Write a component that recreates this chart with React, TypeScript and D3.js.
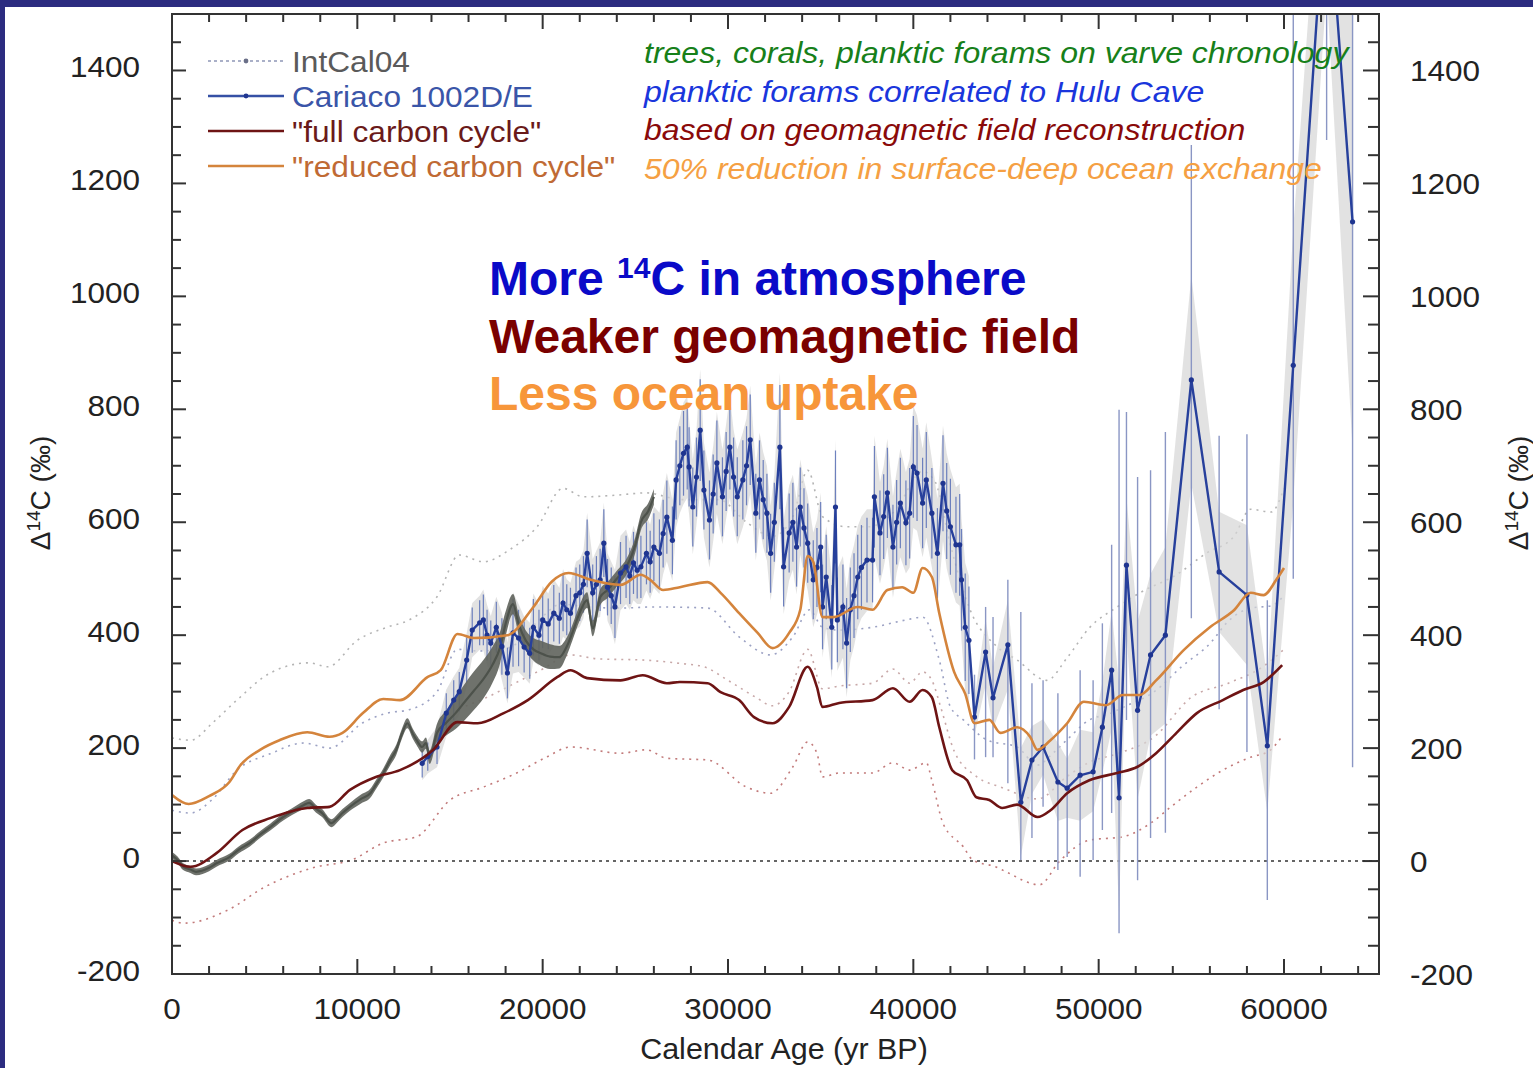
import React from "react";
import * as d3 from "d3";

// ---------- DATA ----------
const xTicksMajor = [0, 10000, 20000, 30000, 40000, 50000, 60000];
const yTicksMajor = [-200, 0, 200, 400, 600, 800, 1000, 1200, 1400];

// "full carbon cycle" (geomagnetic field reconstruction)
const fullCycle: [number, number][] = [
  [0, 0], [1000, -10], [2400, 14], [3800, 55], [5300, 76], [7300, 94], [8500, 96], [9600, 126],
  [11000, 149], [12300, 161], [14100, 197], [15400, 246], [16500, 244], [17900, 262], [19200, 285],
  [20800, 326], [21500, 338], [22400, 324], [24200, 320], [25400, 329], [26700, 315], [27400, 317],
  [28900, 315], [29600, 299], [30600, 285], [31400, 255], [32400, 244], [33300, 273], [34300, 344],
  [34800, 308], [35100, 273], [36000, 280], [37800, 285], [38900, 306], [39800, 282], [40500, 303],
  [41000, 290], [41400, 237], [42100, 161], [42900, 143], [43400, 113], [44100, 108], [44800, 94],
  [45600, 100], [46700, 78], [47400, 90], [48300, 120], [49500, 143], [51000, 156], [52100, 167],
  [53100, 191], [54200, 227], [55300, 262], [56700, 285], [57800, 303], [58900, 317], [59900, 347],
];

// "reduced carbon cycle"
const reducedCycle: [number, number][] = [
  [0, 117], [900, 101], [2000, 115], [3100, 140], [3700, 170], [4750, 197], [5800, 214], [7300, 228],
  [8500, 220], [9200, 227], [10300, 262], [11400, 287], [12300, 285], [13800, 326], [14500, 338],
  [15400, 402], [16300, 395], [18100, 400], [19500, 450], [20500, 495], [21400, 510], [22600, 498],
  [24200, 489], [25300, 507], [25800, 498], [26500, 480], [27400, 485], [28900, 494], [29600, 475],
  [30600, 439], [31600, 404], [32400, 377], [33300, 404], [33900, 445], [34300, 540], [34600, 530],
  [35100, 432], [35700, 432], [37000, 450], [37800, 445], [38600, 480], [39400, 485], [40000, 475],
  [40500, 519], [41000, 503], [41400, 439], [42200, 335], [42800, 296], [43300, 244], [44100, 250],
  [44700, 227], [45600, 237], [46300, 220], [46700, 197], [47400, 214], [48300, 244], [49200, 282],
  [50400, 276], [51300, 294], [52200, 294], [53100, 320], [54600, 374], [56000, 414], [57300, 444],
  [58200, 475], [58900, 471], [59600, 499], [60000, 519],
];

// dotted uncertainty envelopes
const envUpper: [number, number][] = [
  [0, 218], [1000, 214], [2200, 245], [3500, 285], [5300, 333], [7400, 351], [8400, 344], [10000, 391],
  [11600, 414], [12800, 427], [14300, 468], [15500, 542], [16800, 530], [18200, 551], [19700, 592],
  [21100, 660], [22200, 645], [24000, 648], [25600, 652], [27500, 640], [29500, 640], [31000, 600],
  [32400, 575], [33500, 610], [34300, 692], [35100, 610], [36400, 592], [37600, 592], [39000, 620],
  [40500, 690], [41200, 670], [42000, 560], [43000, 450], [44500, 380], [45600, 356], [47200, 320],
  [48300, 360], [49500, 413], [51000, 450], [52500, 480], [54100, 505], [55800, 545], [57300, 575],
  [58200, 623], [59300, 618], [60000, 660],
];
const envReducedLow: [number, number][] = [
  [0, 90], [1000, 85], [2200, 110], [3500, 161], [5300, 190], [7100, 209], [8500, 200], [10300, 245],
  [11600, 262], [12800, 268], [14300, 300], [15400, 375], [16500, 372], [18200, 378], [19600, 420],
  [21000, 455], [22400, 450], [24200, 448], [26000, 450], [28900, 448], [30600, 397], [32300, 365],
  [33500, 397], [34400, 445], [35100, 414], [36000, 409], [37800, 414], [39600, 427], [40500, 432],
  [41400, 356], [42000, 273], [42700, 250], [44000, 214], [45600, 202], [46700, 170], [47500, 190],
  [48300, 215], [49500, 250], [50500, 260], [51500, 275], [53000, 300], [54500, 345], [56000, 385],
  [57000, 425], [58200, 448], [59300, 452], [60000, 470],
];
const envFullHigh: [number, number][] = [
  [15500, 270], [17000, 290], [18500, 315], [20000, 340], [21500, 365], [23000, 358], [25400, 356],
  [27400, 350], [28700, 344], [30000, 320], [31500, 290], [32400, 275], [33300, 300], [34300, 375],
  [35100, 305], [36000, 310], [37800, 315], [38900, 340], [39800, 315], [40500, 335], [41000, 320],
  [41500, 270], [42200, 195], [43400, 150], [44800, 130], [46700, 110], [48300, 150], [49500, 175],
  [51000, 190], [53000, 220], [55000, 290], [57000, 315], [58900, 345], [60000, 375],
];
const envFullLow: [number, number][] = [
  [0, -105], [650, -110], [3000, -87], [5000, -46], [7700, -11], [9700, 2], [11400, 32], [13200, 43],
  [15000, 108], [16800, 131], [18600, 156], [20200, 184], [21500, 202], [24200, 191], [25600, 197],
  [26700, 182], [28900, 179], [31000, 131], [32300, 120], [33500, 167], [34300, 211], [34800, 191],
  [35100, 149], [36000, 156], [37800, 156], [38900, 174], [39800, 161], [40700, 174], [41000, 143],
  [41600, 67], [42700, 25], [43200, 2], [44500, -11], [45000, -19], [46800, -42], [47900, 0],
  [49500, 37], [51300, 43], [52800, 67], [53900, 96], [55300, 131], [56700, 161], [58200, 184],
  [59200, 195], [59900, 221],
];

// IntCal04: [year, value, half-width]
const intcal: [number, number, number][] = [
  [0, 10, 6], [300, 2, 6], [600, -10, 6], [1000, -15, 6], [1300, -19, 6], [2000, -12, 6], [2400, -4, 6],
  [3100, 7, 6], [3600, 20, 6], [4200, 32, 6], [4800, 48, 6], [5300, 60, 6], [6000, 78, 6], [6500, 88, 6],
  [7100, 99, 7], [7400, 103, 7], [7800, 92, 7], [8100, 85, 7], [8600, 67, 7], [8900, 75, 7], [9200, 85, 7],
  [9600, 96, 7], [10200, 110, 8], [10700, 120, 8], [11000, 135, 8], [11400, 156, 8], [11800, 180, 9],
  [12100, 197, 9], [12400, 225, 9], [12700, 244, 9], [13000, 225, 9], [13200, 214, 9], [13500, 202, 10],
  [13700, 209, 10], [13900, 184, 12], [14300, 227, 16], [14800, 245, 22], [15300, 262, 28], [15800, 282, 32],
  [16300, 302, 34], [16800, 322, 34], [17300, 348, 32], [17700, 378, 28], [18000, 420, 22], [18400, 455, 18],
  [18700, 420, 18], [19100, 390, 18], [19500, 375, 20], [19900, 368, 22], [20400, 362, 22], [20900, 361, 20],
  [21300, 380, 16], [21600, 404, 14], [22000, 440, 14], [22400, 462, 14], [22700, 412, 14], [23100, 467, 14],
  [23500, 480, 14], [24000, 500, 14], [24500, 520, 14], [25000, 560, 14], [25300, 600, 14], [25700, 620, 14],
  [26000, 645, 14],
];

// Cariaco 1002D/E, dense part: [year, value, error]
const cariacoDense: [number, number, number][] = [
  [13500, 173, 25], [13800, 185, 25], [14300, 202, 30], [14800, 262, 35], [15200, 285, 35], [15500, 300, 35],
  [15900, 356, 40], [16200, 409, 40], [16600, 422, 40], [16800, 427, 45], [17000, 400, 45], [17200, 386, 40],
  [17500, 414, 45], [17800, 380, 50], [18100, 333, 45], [18400, 404, 60], [18700, 395, 50], [19000, 379, 45],
  [19300, 368, 45], [19500, 414, 50], [19800, 400, 45], [20000, 427, 50], [20300, 420, 45], [20600, 439, 50],
  [20900, 430, 45], [21100, 457, 50], [21300, 445, 45], [21500, 439, 45], [21800, 470, 50], [22000, 475, 50],
  [22200, 490, 50], [22400, 545, 60], [22700, 475, 50], [22900, 490, 50], [23100, 498, 55], [23300, 563, 60],
  [23500, 485, 50], [23700, 470, 50], [23900, 450, 55], [24200, 510, 55], [24500, 521, 55], [24700, 505, 50],
  [24900, 528, 55], [25100, 515, 50], [25300, 521, 55], [25600, 545, 55], [25800, 530, 55], [26000, 556, 60],
  [26300, 545, 60], [26500, 580, 60], [26700, 609, 65], [27000, 568, 60], [27200, 675, 70], [27400, 700, 70],
  [27600, 722, 75], [27800, 733, 75], [27900, 698, 70], [28100, 627, 70], [28300, 680, 70], [28500, 763, 90],
  [28700, 657, 70], [29000, 604, 70], [29200, 650, 70], [29400, 705, 75], [29700, 645, 70], [29900, 690, 70],
  [30100, 733, 75], [30300, 680, 70], [30500, 645, 70], [30800, 675, 70], [31000, 700, 70], [31200, 746, 80],
  [31500, 616, 70], [31700, 675, 70], [31900, 640, 70], [32100, 616, 70], [32300, 545, 70], [32500, 600, 70],
  [32800, 733, 110], [33000, 521, 70], [33300, 581, 70], [33500, 600, 70], [33700, 556, 70], [33900, 627, 70],
  [34100, 590, 70], [34300, 563, 70], [34600, 498, 70], [34800, 520, 70], [35000, 556, 80], [35100, 450, 75],
  [35300, 503, 75], [35600, 414, 75], [35800, 627, 100], [35900, 427, 75], [36200, 450, 75], [36400, 386, 80],
  [36600, 445, 75], [36800, 470, 75], [37000, 503, 75], [37200, 520, 75], [37500, 533, 75], [37800, 533, 75],
  [37900, 645, 90], [38200, 581, 75], [38400, 610, 75], [38600, 652, 80], [38900, 556, 75], [39100, 600, 75],
  [39300, 634, 80], [39600, 599, 75], [39800, 616, 80], [40000, 698, 90], [40200, 687, 85], [40500, 634, 80],
  [40700, 675, 85], [41000, 616, 80], [41300, 545, 80], [41600, 669, 85], [41800, 620, 85], [42000, 592, 85],
  [42300, 560, 85], [42500, 560, 90], [42600, 498, 90], [42800, 414, 95], [43000, 391, 95],
];

// Cariaco, sparse part: [year, value, low, high]
const cariacoSparse: [number, number, number, number][] = [
  [43300, 255, 180, 330], [43900, 370, 184, 450], [44300, 289, 184, 432], [45100, 383, 138, 498],
  [45800, 104, 2, 441], [46400, 179, 41, 315], [47000, 202, 96, 320], [47800, 140, -16, 297],
  [48300, 129, 7, 244], [49000, 152, -28, 338], [49700, 158, 2, 320], [50200, 237, 55, 421],
  [50700, 338, 85, 560], [51100, 112, -128, 799], [51500, 524, 250, 795], [52100, 267, -34, 680],
  [52800, 365, 41, 692], [53600, 400, 50, 760], [55000, 852, 430, 1268], [56500, 512, 269, 753],
  [58000, 471, 193, 756], [59100, 204, -69, 462], [60500, 878, 500, 1600], [62300, 1750, 1277, 2200],
  [63700, 1132, 166, 2000],
];

const legendItems = [
  { label: "IntCal04", text: "#5a5a5a", line: "#aab0c8", dash: "3,3", dot: true },
  { label: "Cariaco 1002D/E", text: "#3a55a8", line: "#3550a5", dash: "", dot: true },
  { label: "\"full carbon cycle\"", text: "#6a1a1a", line: "#6e1414", dash: "", dot: false },
  { label: "\"reduced carbon cycle\"", text: "#c06a34", line: "#d4843c", dash: "", dot: false },
];

const annotations = [
  { text: "trees, corals, planktic forams on varve chronology", color: "#17801a" },
  { text: "planktic forams correlated to Hulu Cave", color: "#1a36dc" },
  { text: "based on geomagnetic field reconstruction", color: "#8a0a0a" },
  { text: "50% reduction in surface-deep ocean exchange", color: "#f5a043" },
];

const FONT = "'Liberation Sans', Arial, Helvetica, sans-serif";
const SX = 1.05; // horizontal stretch of the original typography

export default function App() {
  const L = 172, R = 1379, T = 14, B = 974;
  const x = d3.scaleLinear().domain([0, 60000]).range([172, 1284]);
  const y = d3.scaleLinear().domain([-200, 1500]).range([B, T]);

  const smooth = d3.line<[number, number]>().x(d => x(d[0])).y(d => y(d[1])).curve(d3.curveMonotoneX);
  const straight = d3.line<[number, number]>().x(d => x(d[0])).y(d => y(d[1]));

  const xMinor = d3.range(0, x.invert(R), 2000);
  const yMinor = d3.range(-200, 1500.1, 50);

  const intcalBand = d3.area<[number, number, number]>()
    .x(d => x(d[0])).y0(d => y(d[1] - d[2])).y1(d => y(d[1] + d[2])).curve(d3.curveMonotoneX);

  const denseBand = d3.area<[number, number, number]>()
    .x(d => x(d[0])).y0(d => y(d[1] - d[2] * 1.2)).y1(d => y(d[1] + d[2] * 1.2));
  const sparseBand = d3.area<[number, number, number, number]>()
    .x(d => x(d[0])).y0(d => y(d[1] - (d[3] - d[2]) * 0.22)).y1(d => y(d[1] + (d[3] - d[2]) * 0.22));

  const cariacoLine: [number, number][] = [
    ...cariacoDense.map(d => [d[0], d[1]] as [number, number]),
    ...cariacoSparse.map(d => [d[0], d[1]] as [number, number]),
  ];

  const st = (tx: number, ty: number, s = SX) => `translate(${tx},${ty}) scale(${s},1)`;

  return (
    <svg width={1533} height={1068} style={{ position: "absolute", left: 0, top: 0, display: "block" }}
      fontFamily={FONT}>
      <defs>
        <clipPath id="plotClip">
          <rect x={L} y={T} width={R - L} height={B - T} />
        </clipPath>
      </defs>
      <rect x={0} y={0} width={1533} height={1068} fill="#2c2c80" />
      <rect x={5} y={7} width={1528} height={1061} fill="#ffffff" />

      <g clipPath="url(#plotClip)">
        {/* envelopes */}
        <path d={smooth(envUpper) || ""} fill="none" stroke="#b4b4b4" strokeWidth={1.6} strokeDasharray="2,5" />
        <path d={smooth(envReducedLow) || ""} fill="none" stroke="#9ca2c4" strokeWidth={1.6} strokeDasharray="2,5" />
        <path d={smooth(envFullHigh) || ""} fill="none" stroke="#c8a8a8" strokeWidth={1.6} strokeDasharray="2,5" />
        <path d={smooth(envFullLow) || ""} fill="none" stroke="#c27a7a" strokeWidth={1.6} strokeDasharray="2,5" />

        {/* zero line */}
        <line x1={L} x2={R} y1={y(0)} y2={y(0)} stroke="#333" strokeWidth={1.6} strokeDasharray="3,4" />

        {/* Cariaco uncertainty shading */}
        <path d={denseBand(cariacoDense) || ""} fill="#d6d6d6" opacity={0.7} />
        <path d={sparseBand(cariacoSparse) || ""} fill="#d6d6d6" opacity={0.7} />

        {/* error bars */}
        {cariacoDense.map((d, i) => (
          <line key={"ed" + i} x1={x(d[0])} x2={x(d[0])} y1={y(d[1] - d[2])} y2={y(d[1] + d[2])}
            stroke="#5068b4" strokeWidth={1.2} opacity={0.8} />
        ))}
        {cariacoSparse.map((d, i) => (
          <line key={"es" + i} x1={x(d[0])} x2={x(d[0])} y1={y(d[2])} y2={y(d[3])}
            stroke="#8a96c4" strokeWidth={1.4} />
        ))}

        {/* IntCal04 */}
        <path d={intcalBand(intcal) || ""} fill="#5f635c" opacity={0.9} />
        <path d={smooth(intcal.map(d => [d[0], d[1]] as [number, number])) || ""} fill="none"
          stroke="#4d524b" strokeWidth={2.2} />

        {/* Cariaco line */}
        <path d={straight(cariacoLine) || ""} fill="none" stroke="#27409c" strokeWidth={2.4} />
        {cariacoLine.map((d, i) => (
          <circle key={"c" + i} cx={x(d[0])} cy={y(d[1])} r={2.6} fill="#1f3590" />
        ))}

        {/* model curves */}
        <path d={smooth(reducedCycle) || ""} fill="none" stroke="#d4843c" strokeWidth={2.6} />
        <path d={smooth(fullCycle) || ""} fill="none" stroke="#6e1414" strokeWidth={2.6} />
      </g>

      {/* frame */}
      <rect x={L} y={T} width={R - L} height={B - T} fill="none" stroke="#333" strokeWidth={2} />

      {/* x ticks */}
      {xMinor.map(v => {
        const major = v % 10000 === 0;
        const len = major ? 15 : 8;
        return (
          <g key={"xt" + v}>
            <line x1={x(v)} x2={x(v)} y1={B} y2={B - len} stroke="#333" strokeWidth={2} />
            <line x1={x(v)} x2={x(v)} y1={T} y2={T + len} stroke="#333" strokeWidth={2} />
          </g>
        );
      })}
      {/* y ticks */}
      {yMinor.map(v => {
        const major = v % 200 === 0;
        return (
          <g key={"yt" + v}>
            <line x1={L} x2={L + (major ? 14 : 9)} y1={y(v)} y2={y(v)} stroke="#333" strokeWidth={2} />
            <line x1={R} x2={R - (major ? 16 : 11)} y1={y(v)} y2={y(v)} stroke="#333" strokeWidth={2} />
          </g>
        );
      })}

      {/* tick labels */}
      {xTicksMajor.map(v => (
        <text key={"xl" + v} transform={st(x(v), 1019)} textAnchor="middle" fontSize={30} fill="#222">{v}</text>
      ))}
      {yTicksMajor.map(v => (
        <text key={"yl" + v} transform={st(140, y(v) + 7)} textAnchor="end" fontSize={30} fill="#222">{v}</text>
      ))}
      {yTicksMajor.map(v => (
        <text key={"yr" + v} transform={st(1410, y(v) + 11)} textAnchor="start" fontSize={30} fill="#222">{v}</text>
      ))}

      {/* axis titles */}
      <text transform={st(784, 1059)} textAnchor="middle" fontSize={29} fill="#222">Calendar Age (yr BP)</text>
      <text transform="translate(50,493) rotate(-90)" textAnchor="middle" fontSize={28} fill="#222">
        Δ<tspan dy={-10} fontSize={19}>14</tspan><tspan dy={10}>C (‰)</tspan>
      </text>
      <text transform="translate(1528,493) rotate(-90)" textAnchor="middle" fontSize={28} fill="#222">
        Δ<tspan dy={-10} fontSize={19}>14</tspan><tspan dy={10}>C (‰)</tspan>
      </text>

      {/* legend */}
      {legendItems.map((it, i) => {
        const ly = 61 + i * 35;
        return (
          <g key={"lg" + i}>
            <line x1={208} x2={284} y1={ly} y2={ly} stroke={it.line} strokeWidth={it.dash ? 2 : 2.4}
              strokeDasharray={it.dash || undefined} />
            {it.dot && <circle cx={246} cy={ly} r={2.4} fill={i === 0 ? "#6a6f88" : "#1f3590"} />}
            <text transform={st(292, ly + 11, 1.055)} fontSize={30} fill={it.text}>{it.label}</text>
          </g>
        );
      })}

      {/* annotations */}
      {annotations.map((a, i) => (
        <text key={"an" + i} transform={st(644, 63 + i * 38.5, 1.067)} fontSize={30} fontStyle="italic"
          fill={a.color}>{a.text}</text>
      ))}

      {/* headlines */}
      <text x={489} y={295} fontSize={48} fontWeight="bold" fill="#0a0ac8">
        More <tspan dy={-17} fontSize={30}>14</tspan><tspan dy={17}>C in atmosphere</tspan>
      </text>
      <text x={489} y={353} fontSize={48} fontWeight="bold" fill="#7a0000">Weaker geomagnetic field</text>
      <text x={489} y={410} fontSize={48} fontWeight="bold" fill="#f7963a">Less ocean uptake</text>
    </svg>
  );
}
